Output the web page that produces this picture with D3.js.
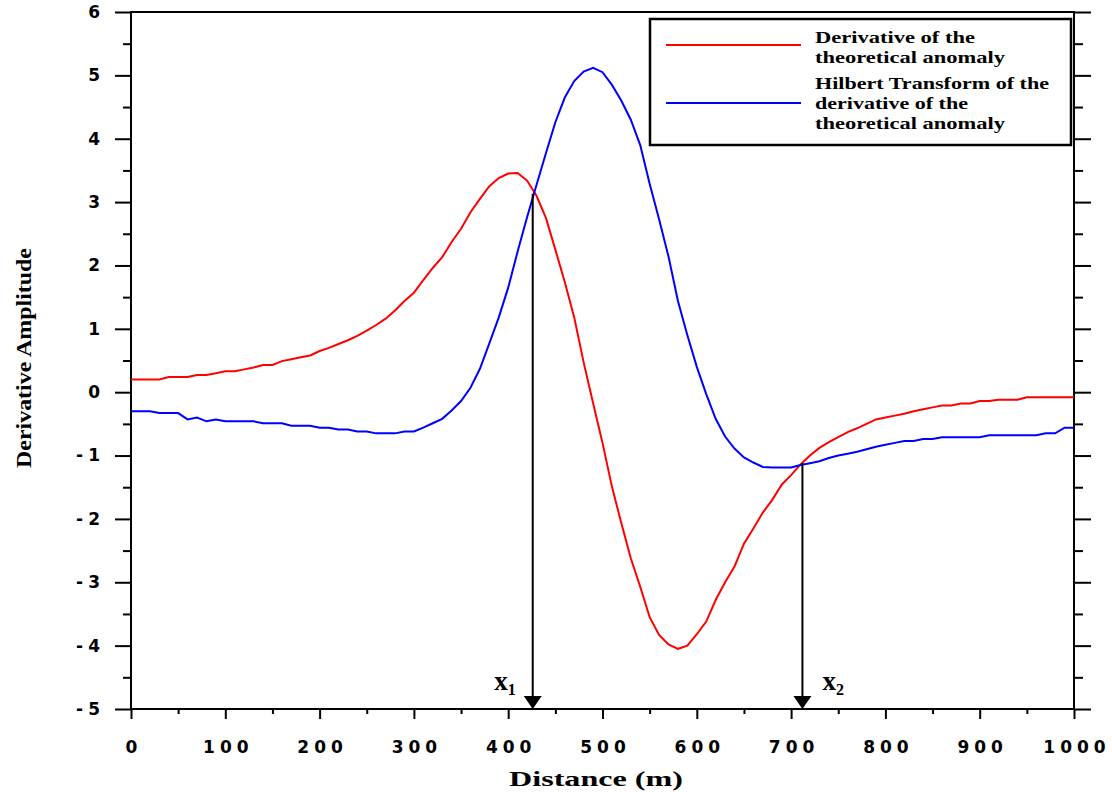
<!DOCTYPE html>
<html>
<head>
<meta charset="utf-8">
<script src="https://cdn.jsdelivr.net/npm/d3@7"></script>
<style>
  body { margin: 0; background: #fff; }
  .tick-lab { font-family: "DejaVu Sans", sans-serif; font-weight: bold; font-size: 17px; letter-spacing: 5px; fill: #000; }
  .serif { font-family: "Liberation Serif", "Times New Roman", serif; font-weight: bold; fill: #000; }
</style>
</head>
<body>
<div id="chart-area"></div>
<script>
// distance (m), sampled every 10 m
const distance = d3.range(0, 1001, 10);

// derivative of the theoretical anomaly (red)
const derivative = [
  0.20, 0.20, 0.20, 0.20, 0.24, 0.24, 0.24, 0.27, 0.27, 0.30,
  0.33, 0.33, 0.36, 0.39, 0.43, 0.43, 0.49, 0.52, 0.55, 0.58,
  0.65, 0.70, 0.76, 0.82, 0.89, 0.97, 1.06, 1.16, 1.29, 1.44,
  1.57, 1.77, 1.96, 2.13, 2.37, 2.58, 2.84, 3.05, 3.25, 3.38,
  3.45, 3.46, 3.34, 3.10, 2.75, 2.25, 1.74, 1.18, 0.47, -0.17,
  -0.80, -1.49, -2.07, -2.62, -3.07, -3.55, -3.83, -3.98, -4.05, -4.00,
  -3.82, -3.62, -3.28, -3.00, -2.75, -2.39, -2.15, -1.90, -1.70, -1.46,
  -1.31, -1.14, -1.00, -0.88, -0.79, -0.71, -0.63, -0.57, -0.50, -0.43,
  -0.40, -0.37, -0.34, -0.30, -0.27, -0.24, -0.21, -0.21, -0.18, -0.18,
  -0.14, -0.14, -0.12, -0.12, -0.12, -0.08, -0.08, -0.08, -0.08, -0.08,
  -0.08
];

// Hilbert transform of the derivative (blue)
const hilbert = [
  -0.30, -0.30, -0.30, -0.33, -0.33, -0.33, -0.43, -0.40, -0.46, -0.43,
  -0.46, -0.46, -0.46, -0.46, -0.49, -0.49, -0.49, -0.53, -0.53, -0.53,
  -0.56, -0.56, -0.59, -0.59, -0.62, -0.62, -0.65, -0.65, -0.65, -0.62,
  -0.62, -0.56, -0.49, -0.42, -0.29, -0.14, 0.07, 0.37, 0.77, 1.18,
  1.65, 2.22, 2.76, 3.27, 3.77, 4.26, 4.65, 4.91, 5.06, 5.12,
  5.05, 4.85, 4.60, 4.30, 3.90, 3.29, 2.73, 2.14, 1.44, 0.90,
  0.40, -0.03, -0.42, -0.70, -0.89, -1.03, -1.11, -1.18, -1.19, -1.19,
  -1.19, -1.15, -1.12, -1.09, -1.04, -1.00, -0.97, -0.94, -0.90, -0.86,
  -0.83, -0.80, -0.77, -0.77, -0.74, -0.74, -0.71, -0.71, -0.71, -0.71,
  -0.71, -0.68, -0.68, -0.68, -0.68, -0.68, -0.68, -0.65, -0.65, -0.56,
  -0.56
];

const xTicks = d3.range(0, 1001, 100);
const yTicks = d3.range(-5, 7, 1);

// x1, x2 markers
const markerX = [426, 712];
const markerTop = [3.13, -1.12];
const markerSub = ["1", "2"];

const legendLines = [
  ["Derivative of the", "theoretical anomaly"],
  ["Hilbert Transform of the", "derivative of the", "theoretical anomaly"]
];
const legendColors = ["#ff0000", "#0000ff"];

const margin = { left: 131, right: 38, top: 12, bottom: 83 };
const W = 1112, H = 792;
const width = W - margin.left - margin.right,
    height = H - margin.top - margin.bottom;

var svg = d3.select("#chart-area")
    .append("svg")
    .attr("width", W)
    .attr("height", H);

const g = svg.append("g")
    .attr("transform", "translate(" + margin.left + ", " + margin.top + ")");

const x = d3.scaleLinear().domain([0, 1000]).range([0, width]);
const y = d3.scaleLinear().domain([-5, 6]).range([height, 0]);

function styleAxis(sel) {
    sel.select(".domain").remove();
    sel.selectAll(".tick line").attr("stroke", "#000").attr("stroke-width", 2);
}

// left axis, major + minor
g.append("g")
    .call(d3.axisLeft(y).tickValues(yTicks).tickSize(16).tickPadding(10)
        .tickFormat(d => String(d)))
    .call(styleAxis)
    .selectAll("text").attr("class", "tick-lab");
g.append("g")
    .call(d3.axisLeft(y).tickValues(yTicks.slice(0, -1).map(d => d + 0.5)).tickSize(8).tickFormat(""))
    .call(styleAxis);

// right axis, no labels
g.append("g")
    .attr("transform", "translate(" + width + ",0)")
    .call(d3.axisRight(y).tickValues(yTicks).tickSize(17).tickFormat(""))
    .call(styleAxis);
g.append("g")
    .attr("transform", "translate(" + width + ",0)")
    .call(d3.axisRight(y).tickValues(yTicks.slice(0, -1).map(d => d + 0.5)).tickSize(9).tickFormat(""))
    .call(styleAxis);

// bottom axis
g.append("g")
    .attr("transform", "translate(0," + height + ")")
    .call(d3.axisBottom(x).tickValues(xTicks).tickSize(10).tickPadding(22)
        .tickFormat(d => String(d)))
    .call(styleAxis)
    .selectAll("text").attr("class", "tick-lab").attr("dx", "2.5px");
g.append("g")
    .attr("transform", "translate(0," + height + ")")
    .call(d3.axisBottom(x).tickValues(xTicks.slice(0, -1).map(d => d + 50)).tickSize(5).tickFormat(""))
    .call(styleAxis);

// frame
g.append("rect")
    .attr("width", width).attr("height", height)
    .attr("fill", "none").attr("stroke", "#000").attr("stroke-width", 2);

// curves
const line = d3.line()
    .x((d, i) => x(distance[i]))
    .y(d => y(d));

g.append("path").datum(derivative)
    .attr("d", line).attr("fill", "none")
    .attr("stroke", legendColors[0]).attr("stroke-width", 2);
g.append("path").datum(hilbert)
    .attr("d", line).attr("fill", "none")
    .attr("stroke", legendColors[1]).attr("stroke-width", 2);

// x1 / x2 arrows
markerX.forEach(function(m, i) {
    const px = x(m);
    g.append("line")
        .attr("x1", px).attr("x2", px)
        .attr("y1", y(markerTop[i])).attr("y2", height - 12)
        .attr("stroke", "#000").attr("stroke-width", 2);
    g.append("path")
        .attr("d", "M" + (px - 9) + "," + (height - 13) + "L" + (px + 9) + "," + (height - 13) + "L" + px + "," + height + "Z")
        .attr("fill", "#000");
    const t = g.append("text")
        .attr("class", "serif")
        .attr("y", height - 19)
        .attr("font-size", "27px");
    if (i === 0) {
        t.attr("x", px - 17).attr("text-anchor", "end");
    } else {
        t.attr("x", px + 20);
    }
    t.append("tspan").text("x");
    t.append("tspan").attr("font-size", "16px").attr("dy", "5").text(markerSub[i]);
});

// legend
const lg = svg.append("g");
lg.append("rect")
    .attr("x", 650).attr("y", 19).attr("width", 421).attr("height", 126)
    .attr("fill", "#fff").attr("stroke", "#000").attr("stroke-width", 2.5);
const legendLineY = [45, 103];
const legendTextY = [[43, 63], [89, 109, 129]];
const legendTextW = [[160, 190], [234, 153, 190]];
legendLines.forEach(function(lines, i) {
    lg.append("line")
        .attr("x1", 666).attr("x2", 801)
        .attr("y1", legendLineY[i]).attr("y2", legendLineY[i])
        .attr("stroke", legendColors[i]).attr("stroke-width", 2);
    lines.forEach(function(s, j) {
        lg.append("text")
            .attr("class", "serif")
            .attr("x", 815).attr("y", legendTextY[i][j])
            .attr("font-size", "17px")
            .attr("textLength", legendTextW[i][j])
            .attr("lengthAdjust", "spacingAndGlyphs")
            .text(s);
    });
});

// X Label
svg.append("text")
    .attr("class", "serif")
    .attr("x", 509).attr("y", 786)
    .attr("font-size", "22px")
    .attr("textLength", 174)
    .attr("lengthAdjust", "spacingAndGlyphs")
    .text("Distance (m)");

// Y Label
svg.append("text")
    .attr("class", "serif")
    .attr("transform", "translate(31,468) rotate(-90)")
    .attr("font-size", "22px")
    .attr("textLength", 220)
    .attr("lengthAdjust", "spacingAndGlyphs")
    .text("Derivative Amplitude");
</script>
</body>
</html>
